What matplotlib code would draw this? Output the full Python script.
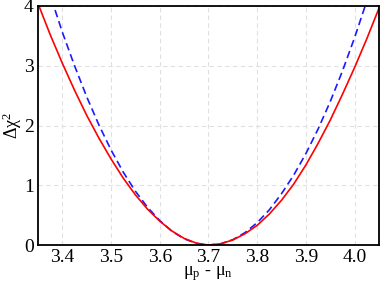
import matplotlib
matplotlib.use("Agg")
import matplotlib.pyplot as plt

# Delta chi^2 profiles
x_red = [3.350, 3.375, 3.400, 3.425, 3.450, 3.475, 3.500, 3.525, 3.550, 3.575,
         3.600, 3.625, 3.650, 3.675, 3.700, 3.725, 3.750, 3.775, 3.800, 3.825,
         3.850, 3.875, 3.900, 3.925, 3.950, 3.975, 4.000, 4.025, 4.050]
chi2_red = [4.04, 3.52, 3.04, 2.59, 2.17, 1.79, 1.44, 1.12, 0.84, 0.60,
            0.40, 0.235, 0.112, 0.033, 0.0, 0.022, 0.085, 0.19, 0.33, 0.52,
            0.75, 1.02, 1.34, 1.70, 2.09, 2.52, 2.97, 3.45, 3.96]

x_blue = [3.375, 3.400, 3.425, 3.450, 3.475, 3.500, 3.525, 3.550, 3.575, 3.600,
          3.625, 3.650, 3.675, 3.700, 3.725, 3.750, 3.775, 3.800, 3.825, 3.850,
          3.875, 3.900, 3.925, 3.950, 3.975, 4.000, 4.025]
chi2_blue = [4.18, 3.56, 3.00, 2.48, 2.01, 1.59, 1.22, 0.90, 0.63, 0.41,
             0.23, 0.106, 0.028, 0.0, 0.021, 0.090, 0.208, 0.375, 0.59, 0.86,
             1.17, 1.53, 1.94, 2.40, 2.91, 3.47, 4.08]

x_ticks = [3.4, 3.5, 3.6, 3.7, 3.8, 3.9, 4.0]
y_ticks = [0, 1, 2, 3, 4]

plt.rcParams['font.family'] = ['Liberation Serif', 'DejaVu Serif']
plt.rcParams['mathtext.fontset'] = 'stix'

fig = plt.figure(figsize=(3.82, 2.83), dpi=100)
ax = fig.add_axes([0.0995, 0.134, 0.8925, 0.845])

ax.plot(x_blue, chi2_blue, color='#1a1aff', lw=1.2, ls=(0, (4.5, 2.5)))
ax.plot(x_red, chi2_red, color='#ff0000', lw=1.2)

ax.set_xlim(3.35, 4.05)
ax.set_ylim(0, 4)
ax.set_xticks(x_ticks)
ax.set_xticklabels(['%.1f' % t for t in x_ticks])
ax.set_yticks(y_ticks)
ax.tick_params(length=0, labelsize=14, pad=3)
ax.grid(True, color='#e0e0e0', ls=(0, (4, 3)), lw=0.8)
for s in ax.spines.values():
    s.set_linewidth(1.3)

ax.set_xlabel('μ$_\\mathregular{p}$ - μ$_\\mathregular{n}$', fontsize=13, labelpad=-1)
ax.set_ylabel('Δχ$^\\mathregular{2}$', fontsize=13, labelpad=0)

fig.savefig('out.png', dpi=100)
